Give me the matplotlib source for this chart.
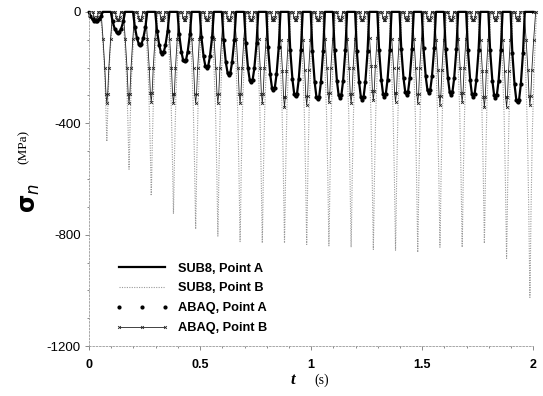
import matplotlib
matplotlib.use('Agg')
import matplotlib.pyplot as plt
from matplotlib.ticker import MultipleLocator

plt.rcParams['axes.unicode_minus'] = False

# times of the load passes (s)
t_pass_A = [0.03, 0.13, 0.23, 0.33, 0.43, 0.53, 0.63, 0.73, 0.83, 0.93,
            1.03, 1.13, 1.23, 1.33, 1.43, 1.53, 1.63, 1.73, 1.83, 1.93]
t_pass_B = [0.08, 0.18, 0.28, 0.38, 0.48, 0.58, 0.68, 0.78, 0.88, 0.98,
            1.08, 1.18, 1.28, 1.38, 1.48, 1.58, 1.68, 1.78, 1.88, 1.985]

# peak compressive stress of each pass (MPa)
sub8_A_peak = [-35, -77, -119, -150, -180, -202, -227, -255, -283, -305,
               -316, -309, -316, -305, -298, -291, -298, -305, -309, -327]
sub8_B_peak = [-465, -565, -660, -725, -780, -805, -825, -830, -830, -835,
               -840, -845, -853, -856, -863, -845, -845, -831, -885, -1025]
abaq_A_peak = [-33, -75, -118, -150, -178, -200, -226, -252, -280, -303,
               -314, -308, -315, -304, -297, -290, -297, -304, -308, -325]
abaq_B_peak = [-327, -327, -323, -327, -327, -327, -327, -327, -341, -334,
               -323, -327, -316, -323, -327, -334, -323, -341, -341, -334]
# small bump seen at point B while the load is over point A
abaq_B_bump = -30

# shape of one pass: time offset (s) and fraction of the peak
shape_A_dt = [-0.032, -0.024, -0.014, -0.006, 0.0, 0.006, 0.014, 0.024, 0.032]
shape_A_f = [0.0, 0.45, 0.8, 0.97, 1.0, 0.97, 0.8, 0.45, 0.0]
shape_B_dt = [-0.03, -0.02, -0.011, -0.005, -0.002, 0.0, 0.002, 0.005, 0.011, 0.02, 0.03]
shape_B_f = [0.0, 0.18, 0.42, 0.7, 0.9, 1.0, 0.9, 0.7, 0.42, 0.18, 0.0]
shape_AB_dt = [-0.026, -0.017, -0.009, -0.004, 0.0, 0.004, 0.009, 0.017, 0.026]
shape_AB_f = [0.0, 0.3, 0.62, 0.9, 1.0, 0.9, 0.62, 0.3, 0.0]
bump_dt = [-0.012, -0.008, -0.004, 0.0, 0.004, 0.008, 0.012]
bump_f = [0.0, 0.6, 0.92, 1.0, 0.92, 0.6, 0.0]


def trace(passes):
    # passes: list of (centre, peak, dts, fracs)
    t = [0.0]
    s = [0.0]
    for c, p, dts, fs in sorted(passes):
        for dt, f in zip(dts, fs):
            t.append(c + dt)
            s.append(p * f)
    t.append(2.0)
    s.append(0.0)
    return t, s


tA, sA = trace([(c, p, shape_A_dt, shape_A_f) for c, p in zip(t_pass_A, sub8_A_peak)])
tB, sB = trace([(c, p, shape_B_dt, shape_B_f) for c, p in zip(t_pass_B, sub8_B_peak)]
               + [(c, abaq_B_bump, bump_dt, bump_f) for c in t_pass_A])
tqA, sqA = trace([(c, p, shape_A_dt[1:-1], shape_A_f[1:-1]) for c, p in zip(t_pass_A, abaq_A_peak)])
tqB, sqB = trace([(c, p, shape_AB_dt, shape_AB_f) for c, p in zip(t_pass_B, abaq_B_peak)]
                 + [(c, abaq_B_bump, bump_dt, bump_f) for c in t_pass_A])

fig = plt.figure(figsize=(5.43, 3.96), dpi=100)
ax = fig.add_axes([0.164, 0.126, 0.818, 0.844])

ax.plot(tB, sB, color='#9a9a9a', lw=0.8, ls=(0, (1, 1.2)), label='SUB8, Point B', clip_on=False)
ax.plot(tqB, sqB, color='#222222', lw=0.6, marker='x', ms=2.0, mew=0.6,
        label='ABAQ, Point B', clip_on=False)
ax.plot(tqA[1:-1], sqA[1:-1], ls='none', marker='o', ms=2.0, color='black',
        label='ABAQ, Point A', clip_on=False)
ax.plot(tA, sA, color='black', lw=1.6, label='SUB8, Point A', clip_on=False)

ax.set_xlim(0, 2)
ax.set_ylim(-1200, 0)
ax.xaxis.set_minor_locator(MultipleLocator(0.1))
ax.yaxis.set_major_locator(MultipleLocator(400))
ax.yaxis.set_minor_locator(MultipleLocator(100))
ax.set_xticks([0, 0.5, 1, 1.5, 2])
ax.set_xticklabels(['0', '0.5', '1', '1.5', '2'])

for side in ['top', 'right']:
    ax.spines[side].set_visible(False)
for side in ['left', 'bottom']:
    ax.spines[side].set_color('#999999')
    ax.spines[side].set_linewidth(0.6)
    ax.spines[side].set_linestyle((0, (2, 2)))

ax.tick_params(which='both', direction='out', color='#777777', width=0.6)
ax.tick_params(which='major', length=3)
ax.tick_params(which='minor', length=1.5)
ax.tick_params(axis='x', pad=6)
ax.tick_params(axis='y', pad=3)
for lab in ax.get_xticklabels():
    lab.set_family('Liberation Sans')
    lab.set_fontsize(9)
    lab.set_fontweight('bold')
for lab in ax.get_yticklabels():
    lab.set_family('Liberation Sans')
    lab.set_fontsize(9.5)

# axis titles
fig.text(0.056, 0.5, r'$\mathbf{\sigma}_{\mathit{n}}$', rotation=90, fontsize=17,
         ha='center', va='center')
fig.text(0.043, 0.628, '(MPa)', rotation=90, fontsize=9.5, ha='center', va='center',
         family='Liberation Serif')
fig.text(0.54, 0.04, 't', fontsize=12, ha='center', va='center',
         fontweight='bold', fontstyle='italic', family='Liberation Serif')
fig.text(0.592, 0.04, '(s)', fontsize=10, ha='center', va='center',
         family='Liberation Serif')

handles, labels = ax.get_legend_handles_labels()
order = [3, 0, 2, 1]
leg = ax.legend([handles[i] for i in order], [labels[i] for i in order],
                loc='upper left', bbox_to_anchor=(0.058, 0.25), frameon=False,
                handlelength=4.2, handletextpad=0.75, labelspacing=0.62,
                numpoints=3, borderaxespad=0, borderpad=0,
                prop={'family': 'Liberation Sans', 'weight': 'bold', 'size': 9.2})

fig.savefig('out.png', dpi=100)
